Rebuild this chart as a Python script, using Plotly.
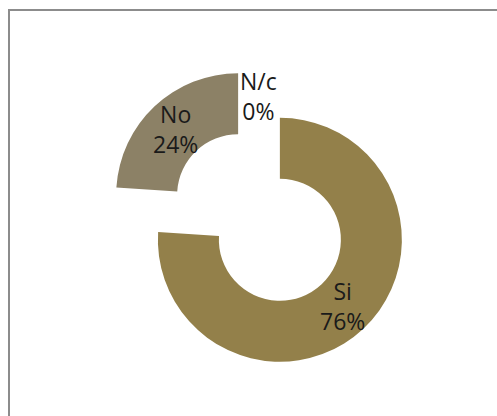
import math
import plotly.graph_objects as go

# Survey answers and their counts (share of responses)
labels = ["Si", "No", "N/c"]
values = [76, 24, 0]
colors = ["#93804A", "#8C8166", "#C9C0A8"]
pull = 0.25

W, H = 497, 416
# Pie box in pixels: centre and outer radius that follow from the domain
dom_x = (106.5, 411.5)
dom_y = (65.0, 370.0)
cx, cy = sum(dom_x) / 2, sum(dom_y) / 2
R = min(dom_x[1] - dom_x[0], dom_y[1] - dom_y[0]) / (2 + 2 * pull)

total = sum(values)
font = dict(family="Open Sans", size=23, color="#1a1a1a")

fig = go.Figure(
    go.Pie(
        labels=labels,
        values=values,
        hole=0.5,
        sort=False,
        direction="clockwise",
        rotation=0,
        pull=[pull] * len(values),
        marker=dict(colors=colors, line=dict(width=0)),
        textinfo="none",
        domain=dict(x=[dom_x[0] / W, dom_x[1] / W], y=[1 - dom_y[1] / H, 1 - dom_y[0] / H]),
        showlegend=False,
        hoverinfo="label+percent",
    )
)

# Labels sit at the middle of each (pulled) ring segment
start = 0.0
for lab, v in zip(labels, values):
    share = v / total
    mid = math.radians(360 * (start + share / 2))
    start += share
    lx = cx + R * math.sin(mid)
    ly = cy - R * math.cos(mid)
    fig.add_annotation(
        x=lx / W, y=1 - ly / H, xref="paper", yref="paper",
        xanchor="center", yanchor="middle",
        text=f"{lab}<br>{round(100 * share)}%",
        showarrow=False, font=font,
    )

# Frame around the chart area
fig.add_shape(
    type="rect", xref="paper", yref="paper",
    x0=9 / W, x1=1.05, y0=-0.05, y1=1 - 10 / H,
    line=dict(color="#8c8c8c", width=2),
)

fig.update_layout(
    width=W, height=H,
    margin=dict(l=0, r=0, t=0, b=0),
    paper_bgcolor="white",
    plot_bgcolor="white",
)

fig.write_html("out.html")
